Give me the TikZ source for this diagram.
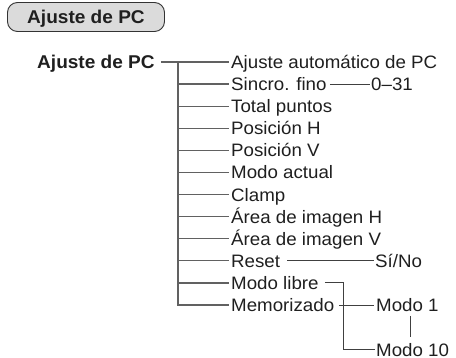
\documentclass[tikz,border=0pt]{standalone}
\usepackage{fontspec}
\setmainfont{Liberation Sans}
\newfontfamily\reglbl[FakeStretch=1.04]{Liberation Sans}
\newfontfamily\boldlblfont[FakeStretch=1.03]{Liberation Sans Bold}
\begin{document}
\begin{tikzpicture}[x=1pt,y=-1pt,
  lbl/.style={font=\fontsize{18}{20}\reglbl, text=black!88, inner sep=0pt, anchor=west, text height=13pt, text depth=0pt},
  boldlbl/.style={lbl, font=\fontsize{18.5}{20}\boldlblfont},
  titlebox/.style={draw=black!80, fill=black!14, line width=0.9pt, rounded corners=10pt, minimum width=157pt, minimum height=29pt, inner sep=0pt, text=black!88, font=\fontsize{18.5}{20}\boldlblfont, text height=13pt, text depth=0pt},
  conn/.style={draw=black!62, line width=1.2pt},
  sub/.style={draw=black!75, line width=1pt}]
\useasboundingbox (0,0) rectangle (456,358);
\node[titlebox] (title) at (86,17) {Ajuste de PC};
\node[boldlbl] (root) at (37,62) {Ajuste de PC};
\coordinate (trunk) at (178,0);
\node[lbl] (i1) at (231,62.0) {Ajuste automático de PC};
\node[lbl] (i2) at (231,84.1) {Sincro. fino};
\node[lbl] (i3) at (231,106.2) {Total puntos};
\node[lbl] (i4) at (231,128.3) {Posición H};
\node[lbl] (i5) at (231,150.4) {Posición V};
\node[lbl] (i6) at (231,172.5) {Modo actual};
\node[lbl] (i7) at (231,194.6) {Clamp};
\node[lbl] (i8) at (231,216.7) {Área de imagen H};
\node[lbl] (i9) at (231,238.8) {Área de imagen V};
\node[lbl] (i10) at (231,260.9) {Reset};
\node[lbl] (i11) at (231,283.0) {Modo libre};
\node[lbl] (i12) at (231,305.1) {Memorizado};
\node[lbl] (v031) at (371,84.1) {0–31};
\node[lbl] (sino) at (375,260.9) {Sí/No};
\node[lbl] (m1) at (376,305.1) {Modo 1};
\node[lbl] (m10) at (376,350) {Modo 10};
\coordinate (libx) at (343,0);
\coordinate (barx) at (410,0);
% root line and trunk
\draw[conn] ([xshift=6pt]root.east) -- ([xshift=-2pt]i1.west);
\draw[conn] (i1.west -| trunk) -- (i12.west -| trunk) -- ([xshift=-2pt]i12.west);
\foreach \n in {i2,i3,i4,i5,i6,i7,i8,i9,i10,i11}
  \draw[conn] (\n.west -| trunk) -- ([xshift=-2pt]\n.west);
% sub branches
\draw[sub] ([xshift=3pt]i2.east) -- ([xshift=-1pt]v031.west);
\draw[sub] ([xshift=7pt]i10.east) -- ([xshift=-1pt]sino.west);
\draw[sub] ([xshift=6pt]i11.east) -- (i11.east -| libx) -- (m10.west -| libx) -- ([xshift=-1pt]m10.west);
\draw[sub] ([xshift=5pt]i12.east) -- ([xshift=-2pt]m1.west);
\draw[sub] ([yshift=-4pt]m1.south -| barx) -- ([yshift=6pt]m10.north -| barx);
\end{tikzpicture}
\end{document}
